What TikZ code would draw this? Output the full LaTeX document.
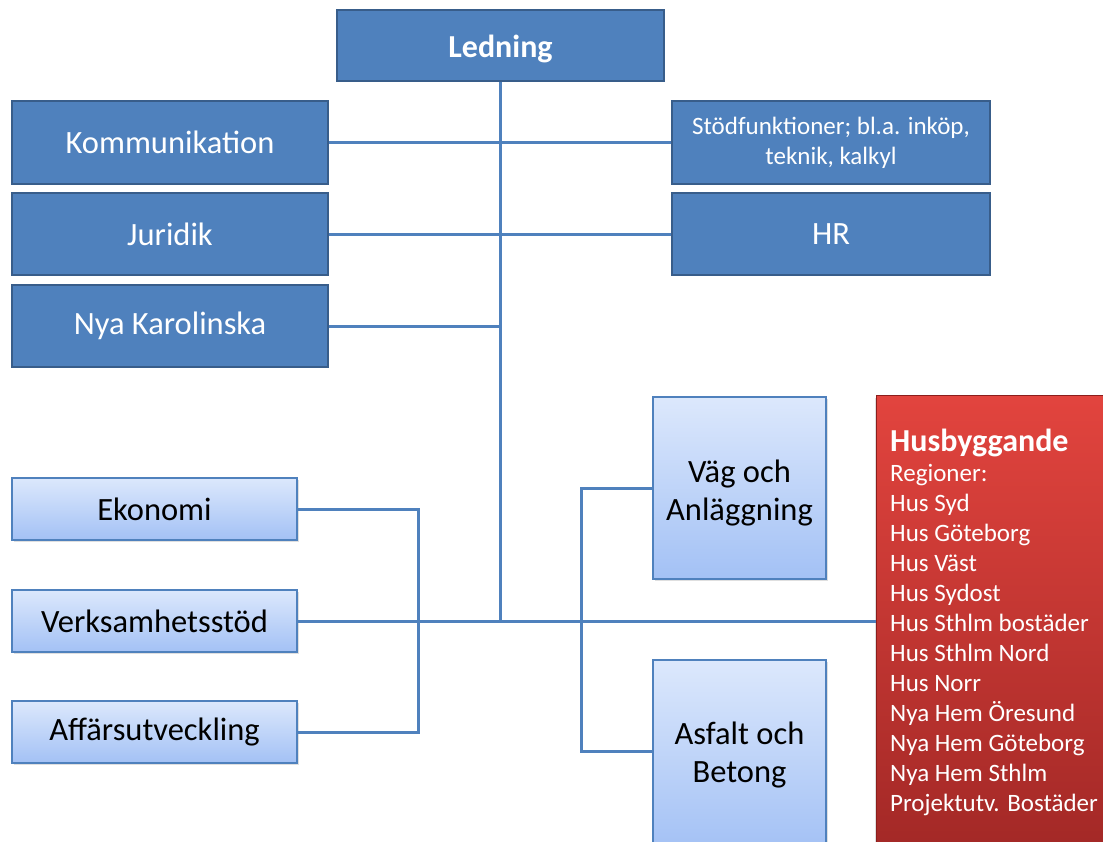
\documentclass[tikz,border=0pt]{standalone}
\usepackage{fontspec}
\setmainfont{Carlito}
\usetikzlibrary{shadows}
\definecolor{topblue}{RGB}{79,129,189}
\definecolor{topedge}{RGB}{56,93,138}
\definecolor{lightA}{RGB}{220,232,252}
\definecolor{lightB}{RGB}{163,193,245}
\definecolor{redA}{RGB}{226,68,62}
\definecolor{redB}{RGB}{162,40,38}
\definecolor{rededge}{RGB}{140,30,28}
\definecolor{linkblue}{RGB}{79,129,189}
\tikzset{
  mgmt/.style={draw=topedge, line width=2.5pt, fill=topblue, text=white,
    inner sep=0pt, align=center, font=\fontsize{32.5}{38}\selectfont},
  unit/.style={draw=linkblue, line width=1.3pt, top color=lightA, bottom color=lightB,
    inner sep=0pt, align=center, font=\fontsize{32.5}{38}\selectfont,
    drop shadow={shadow xshift=2pt, shadow yshift=-2pt, opacity=0.25}},
  link/.style={draw=linkblue, line width=3pt},
}
% invisible strut that pushes a centred label down a little
\newcommand{\lowerby}[1]{\rule{0pt}{#1}}
\begin{document}
\begin{tikzpicture}[x=1pt, y=-1pt]
\useasboundingbox (0,0) rectangle (1103,841);

% management row
\node[mgmt, minimum width=327pt, minimum height=71pt, font=\fontsize{32}{38}\selectfont\bfseries]
  (led) at (500.5,45.5) {\lowerby{30pt}Ledning};
\node[mgmt, minimum width=316pt, minimum height=83pt] (kom) at (170,142.5) {Kommunikation};
\node[mgmt, minimum width=316pt, minimum height=82pt] (jur) at (170,234) {Juridik};
\node[mgmt, minimum width=316pt, minimum height=82pt] (nka) at (170,326) {Nya Karolinska};
\node[mgmt, minimum width=318pt, minimum height=83pt, font=\fontsize{25}{30}\selectfont]
  (stod) at (831,142.5) {Stödfunktioner; bl.a. inköp,\\teknik, kalkyl};
\node[mgmt, minimum width=318pt, minimum height=82pt] (hr) at (831,234) {HR};

% support units on the left
\node[unit, minimum width=285pt, minimum height=62pt] (eko) at (154.5,509) {Ekonomi};
\node[unit, minimum width=285pt, minimum height=62pt] (verk) at (154.5,621) {Verksamhetsstöd};
\node[unit, minimum width=285pt, minimum height=62pt] (aff) at (154.5,732) {Affärsutveckling};

% business areas
\node[unit, minimum width=173pt, minimum height=182pt] (vag) at (739.5,488)
  {\lowerby{32pt}Väg och\\Anläggning};
\node[unit, minimum width=173pt, minimum height=190pt] (asf) at (739.5,755) {Asfalt och\\Betong};

% building division
\node[draw=rededge, line width=1pt, top color=redA, bottom color=redB,
  minimum width=240pt, minimum height=460pt, inner sep=0pt, anchor=north west,
  drop shadow={shadow xshift=-2pt, shadow yshift=-2pt, opacity=0.25}]
  (hus) at (876,395) {};
\node[anchor=north west, inner sep=0pt, align=left, text=white,
  font=\fontsize{25}{30}\selectfont] (huslist) at (890,429)
  {{\fontsize{32}{32}\selectfont\bfseries Husbyggande}\\
   Regioner:\\ Hus Syd\\ Hus Göteborg\\ Hus Väst\\ Hus Sydost\\
   Hus Sthlm bostäder\\ Hus Sthlm Nord\\ Hus Norr\\ Nya Hem Öresund\\
   Nya Hem Göteborg\\ Nya Hem Sthlm\\ Projektutv. Bostäder};

% connectors
\coordinate (trunkend) at (led.south |- verk.east);
\coordinate (trunkmid) at (led.south |- nka.east);
\draw[link] (led.south) -- (trunkend);
\draw[link] (kom.east) -- (stod.west);
\draw[link] (jur.east) -- (hr.west);
\draw[link] (nka.east) -- (trunkmid);
\draw[link] (verk.east) -- (verk.east -| hus.west);
\draw[link] (eko.east) -- ++(121,0) |- (aff.east);
\coordinate (asfjoin) at (asf.west |- 0,751);
\draw[link] (vag.west) -- ++(-71,0) |- (asfjoin);
\end{tikzpicture}
\end{document}
